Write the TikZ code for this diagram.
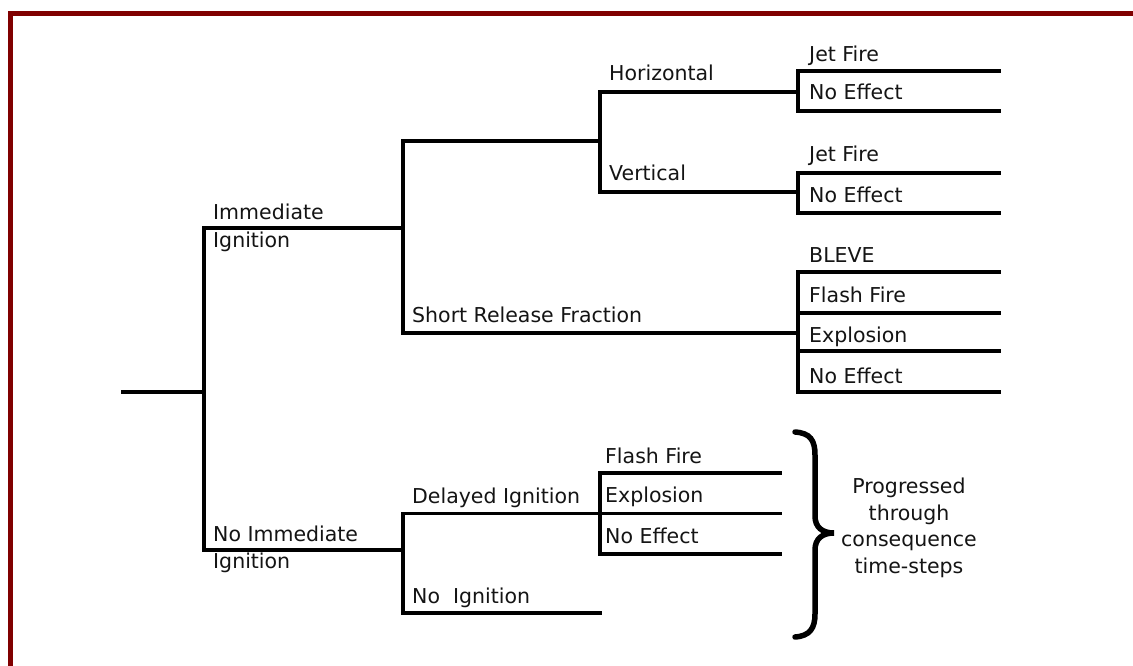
\documentclass[tikz,border=0pt]{standalone}
\usepackage{fontspec}
\setmainfont{DejaVu Sans}
\definecolor{framered}{HTML}{800000}
\begin{document}
\begin{tikzpicture}[x=1pt,y=-1pt,
  br/.style={line width=3.3pt,line cap=rect,line join=miter},
  lbl/.style={anchor=base west,inner sep=0pt,font=\fontsize{20.5}{24}\selectfont,text=black!92},
  brace/.style={line width=5.5pt,line cap=round}]
\useasboundingbox (0,0) rectangle (1133,666);
\fill[white] (0,0) rectangle (1133,666);
% frame
\draw[framered,line width=5pt] (10.5,670) -- (10.5,13.5) -- (1140,13.5);

% coordinates
\coordinate (root) at (123,392);
\coordinate (s1) at (204,392);
\coordinate (s1t) at (204,228);
\coordinate (s1b) at (204,550);
\coordinate (s2) at (403,228);
\coordinate (s2t) at (403,141);
\coordinate (s2b) at (403,333);
\coordinate (s3) at (600,141);
\coordinate (s3t) at (600,92);
\coordinate (s3b) at (600,192);
\coordinate (h) at (798,92);
\coordinate (ht) at (798,71);
\coordinate (hb) at (798,111);
\coordinate (hte) at (999,71);
\coordinate (hbe) at (999,111);
\coordinate (v) at (798,192);
\coordinate (vt) at (798,173);
\coordinate (vb) at (798,213);
\coordinate (vte) at (999,173);
\coordinate (vbe) at (999,213);
\coordinate (f) at (798,333);
\coordinate (f1) at (798,272);
\coordinate (f4) at (798,392);
\coordinate (f1e) at (999,272);
\coordinate (f2s) at (798,313);
\coordinate (f2e) at (999,313);
\coordinate (f3s) at (798,351);
\coordinate (f3e) at (999,351);
\coordinate (f4e) at (999,392);
\coordinate (n) at (403,550);
\coordinate (nt) at (403,513.5);
\coordinate (nb) at (403,613);
\coordinate (nbe) at (600,613);
\coordinate (d) at (600,513.5);
\coordinate (dt) at (600,473);
\coordinate (db) at (600,554);
\coordinate (dte) at (780,473);
\coordinate (dme) at (780,513.5);
\coordinate (dbe) at (780,554);

% tree
\draw[br] (root) -- (s1);
\draw[br] (s1b) -- (s1t) -- (s2);
\draw[br] (s1b) -- (n);
\draw[br] (s2t) -- (s2b) -- (f);
\draw[br] (s2t) -- (s3);
\draw[br] (s3t) -- (s3b);
\draw[br] (s3t) -- (h);
\draw[br] (s3b) -- (v);
\draw[br] (hte) -- (ht) -- (hb) -- (hbe);
\draw[br] (vte) -- (vt) -- (vb) -- (vbe);
\draw[br] (f1e) -- (f1) -- (f4) -- (f4e);
\draw[br] (f2s) -- (f2e);
\draw[br] (f3s) -- (f3e);
\draw[br] (nt) -- (nb) -- (nbe);
\draw[br] (nt) -- (d);
\draw[br] (dte) -- (dt) -- (db) -- (dbe);
\draw[br] (d) -- (dme);

% labels
\node[lbl] (immA) at (213,219) {Immediate};
\node[lbl] (immB) at (213,247) {Ignition};
\node[lbl] (hor) at (609,81) {Horizontal};
\node[lbl] (ver) at (609,180) {Vertical};
\node[lbl] (srf) at (412,322) {Short Release Fraction};
\node[lbl] (jf1) at (809,62) {Jet Fire};
\node[lbl] (ne1) at (809,100) {No Effect};
\node[lbl] (jf2) at (809,162) {Jet Fire};
\node[lbl] (ne2) at (809,202) {No Effect};
\node[lbl] (blv) at (809,262) {BLEVE};
\node[lbl] (ff1) at (809,302) {Flash Fire};
\node[lbl] (ex1) at (809,342) {Explosion};
\node[lbl] (ne3) at (809,383) {No Effect};
\node[lbl] (nimA) at (213,541) {No Immediate};
\node[lbl] (nimB) at (213,568) {Ignition};
\node[lbl] (del) at (412,503) {Delayed Ignition};
\node[lbl] (noi) at (412,603) {No\ \ Ignition};
\node[lbl] (ff2) at (605,463) {Flash Fire};
\node[lbl] (ex2) at (605,502) {Explosion};
\node[lbl] (ne4) at (605,543) {No Effect};

% brace
\draw[brace] (795,432) .. controls (810,433) and (815,440) .. (815,455)
  -- (815,516) .. controls (815,527) and (822,533) .. (834,533)
  .. controls (822,533) and (815,539) .. (815,550)
  -- (815,614) .. controls (815,628) and (810,636) .. (795,637);

\node[anchor=north,inner sep=0pt,align=center,font=\fontsize{20.5}{26.5}\selectfont,text=black!92] (prog) at (909,478)
  {Progressed\\through\\consequence\\time-steps};
\end{tikzpicture}
\end{document}
